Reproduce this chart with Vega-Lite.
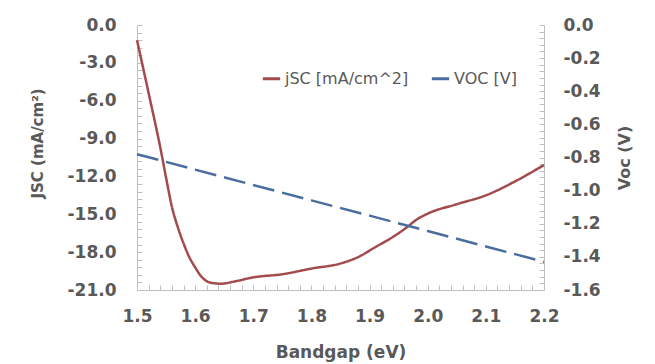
{
  "$schema": "https://vega.github.io/schema/vega-lite/v6.json",
  "autosize": "none",
  "width": 407,
  "height": 265,
  "padding": {"left": 137, "top": 25, "right": 111, "bottom": 74},
  "background": "white",
  "datasets": {
    "jsc": [
      {"bandgap": 1.50, "series": "jSC [mA/cm^2]", "value": -1.2},
      {"bandgap": 1.52, "series": "jSC [mA/cm^2]", "value": -5.4},
      {"bandgap": 1.54, "series": "jSC [mA/cm^2]", "value": -9.7},
      {"bandgap": 1.55, "series": "jSC [mA/cm^2]", "value": -12.1},
      {"bandgap": 1.56, "series": "jSC [mA/cm^2]", "value": -14.4},
      {"bandgap": 1.57, "series": "jSC [mA/cm^2]", "value": -16.0},
      {"bandgap": 1.58, "series": "jSC [mA/cm^2]", "value": -17.3},
      {"bandgap": 1.59, "series": "jSC [mA/cm^2]", "value": -18.4},
      {"bandgap": 1.60, "series": "jSC [mA/cm^2]", "value": -19.2},
      {"bandgap": 1.61, "series": "jSC [mA/cm^2]", "value": -19.9},
      {"bandgap": 1.62, "series": "jSC [mA/cm^2]", "value": -20.3},
      {"bandgap": 1.63, "series": "jSC [mA/cm^2]", "value": -20.45},
      {"bandgap": 1.645, "series": "jSC [mA/cm^2]", "value": -20.5},
      {"bandgap": 1.67, "series": "jSC [mA/cm^2]", "value": -20.3},
      {"bandgap": 1.70, "series": "jSC [mA/cm^2]", "value": -20.0},
      {"bandgap": 1.75, "series": "jSC [mA/cm^2]", "value": -19.75},
      {"bandgap": 1.80, "series": "jSC [mA/cm^2]", "value": -19.3},
      {"bandgap": 1.85, "series": "jSC [mA/cm^2]", "value": -18.9},
      {"bandgap": 1.88, "series": "jSC [mA/cm^2]", "value": -18.4},
      {"bandgap": 1.91, "series": "jSC [mA/cm^2]", "value": -17.6},
      {"bandgap": 1.94, "series": "jSC [mA/cm^2]", "value": -16.8},
      {"bandgap": 1.965, "series": "jSC [mA/cm^2]", "value": -16.0},
      {"bandgap": 1.98, "series": "jSC [mA/cm^2]", "value": -15.45},
      {"bandgap": 2.00, "series": "jSC [mA/cm^2]", "value": -14.95},
      {"bandgap": 2.05, "series": "jSC [mA/cm^2]", "value": -14.2},
      {"bandgap": 2.10, "series": "jSC [mA/cm^2]", "value": -13.5},
      {"bandgap": 2.15, "series": "jSC [mA/cm^2]", "value": -12.4},
      {"bandgap": 2.20, "series": "jSC [mA/cm^2]", "value": -11.1}
    ],
    "voc": [
      {"bandgap": 1.5, "series": "VOC [V]", "value": -0.78},
      {"bandgap": 1.6, "series": "VOC [V]", "value": -0.873},
      {"bandgap": 1.7, "series": "VOC [V]", "value": -0.966},
      {"bandgap": 1.8, "series": "VOC [V]", "value": -1.059},
      {"bandgap": 1.9, "series": "VOC [V]", "value": -1.151},
      {"bandgap": 2.0, "series": "VOC [V]", "value": -1.244},
      {"bandgap": 2.1, "series": "VOC [V]", "value": -1.337},
      {"bandgap": 2.2, "series": "VOC [V]", "value": -1.43}
    ]
  },
  "config": {
    "font": "DejaVu Sans",
    "view": {"stroke": null},
    "axis": {
      "grid": false,
      "domainColor": "#BFBFBF",
      "tickColor": "#BFBFBF",
      "labelFont": "DejaVu Sans",
      "labelFontWeight": "bold",
      "labelFontSize": 17,
      "labelColor": "#595959",
      "labelFlush": false,
      "titleFont": "DejaVu Sans",
      "titleFontWeight": "bold",
      "titleFontSize": 17,
      "titleColor": "#595959"
    },
    "legend": {
      "labelFont": "DejaVu Sans",
      "labelFontSize": 16,
      "labelColor": "#595959"
    }
  },
  "encoding": {
    "x": {
      "field": "bandgap",
      "type": "quantitative",
      "scale": {"domain": [1.5, 2.2], "nice": false, "zero": false},
      "axis": {
        "title": "Bandgap (eV)",
        "values": [1.5, 1.52, 1.54, 1.56, 1.58, 1.6, 1.62, 1.64, 1.66, 1.68, 1.7, 1.72, 1.74, 1.76, 1.78, 1.8, 1.82, 1.84, 1.86, 1.88, 1.9, 1.92, 1.94, 1.96, 1.98, 2.0, 2.02, 2.04, 2.06, 2.08, 2.1, 2.12, 2.14, 2.16, 2.18, 2.2],
        "labelExpr": "abs(datum.value*10 - round(datum.value*10)) < 0.001 ? format(datum.value, '.1f') : ''",
        "tickSize": -5,
        "labelPadding": 23,
        "titlePadding": 20
      }
    }
  },
  "layer": [
    {
      "data": {"name": "jsc"},
      "mark": {"type": "line", "interpolate": "monotone", "strokeWidth": 2.5},
      "encoding": {
        "y": {
          "field": "value",
          "type": "quantitative",
          "scale": {"domain": [-21, 0], "nice": false, "zero": false},
          "axis": {
            "orient": "left",
            "title": "JSC (mA/cm²)",
            "titleFontSize": 15,
            "titleY": 118,
            "values": [-21, -20.4, -19.8, -19.2, -18.6, -18, -17.4, -16.8, -16.2, -15.6, -15, -14.4, -13.8, -13.2, -12.6, -12, -11.4, -10.8, -10.2, -9.6, -9, -8.4, -7.8, -7.2, -6.6, -6, -5.4, -4.8, -4.2, -3.6, -3, -2.4, -1.8, -1.2, -0.6, 0],
            "labelExpr": "abs(datum.value/3 - round(datum.value/3)) < 0.001 ? replace(format(datum.value, '.1f'), '\u2212', '-') : ''",
            "tickSize": -5,
            "labelPadding": 26,
            "titlePadding": 22
          }
        },
        "color": {
          "field": "series",
          "type": "nominal",
          "scale": {"domain": ["jSC [mA/cm^2]", "VOC [V]"], "range": ["#A34A4D", "#4A6C9E"]},
          "legend": {"title": null, "orient": "none", "direction": "horizontal", "legendX": 124, "legendY": 43, "symbolType": "stroke", "symbolStrokeWidth": 3, "symbolSize": 300, "columnPadding": 16, "labelOffset": 3}
        },
        "strokeDash": {
          "field": "series",
          "type": "nominal",
          "scale": {"domain": ["jSC [mA/cm^2]", "VOC [V]"], "range": [[1, 0], [22, 8]]},
          "legend": null
        }
      }
    },
    {
      "data": {"name": "voc"},
      "mark": {"type": "line", "strokeWidth": 2.5},
      "encoding": {
        "y": {
          "field": "value",
          "type": "quantitative",
          "scale": {"domain": [-1.6, 0], "nice": false, "zero": false},
          "axis": {
            "orient": "right",
            "title": "Voc (V)",
            "titleFontSize": 16,
            "titleAngle": 270,
            "titleBaseline": "top",
            "values": [-1.6, -1.56, -1.52, -1.48, -1.44, -1.4, -1.36, -1.32, -1.28, -1.24, -1.2, -1.16, -1.12, -1.08, -1.04, -1.0, -0.96, -0.92, -0.88, -0.84, -0.8, -0.76, -0.72, -0.68, -0.64, -0.6, -0.56, -0.52, -0.48, -0.44, -0.4, -0.36, -0.32, -0.28, -0.24, -0.2, -0.16, -0.12, -0.08, -0.04, 0],
            "labelExpr": "abs(datum.value*5 - round(datum.value*5)) < 0.001 ? replace(format(datum.value, '.1f'), '\u2212', '-') : ''",
            "tickSize": -5,
            "labelPadding": 24,
            "titlePadding": 16
          }
        },
        "color": {"field": "series", "type": "nominal"},
        "strokeDash": {"field": "series", "type": "nominal"}
      }
    }
  ],
  "resolve": {"scale": {"y": "independent"}, "axis": {"y": "independent"}}
}
